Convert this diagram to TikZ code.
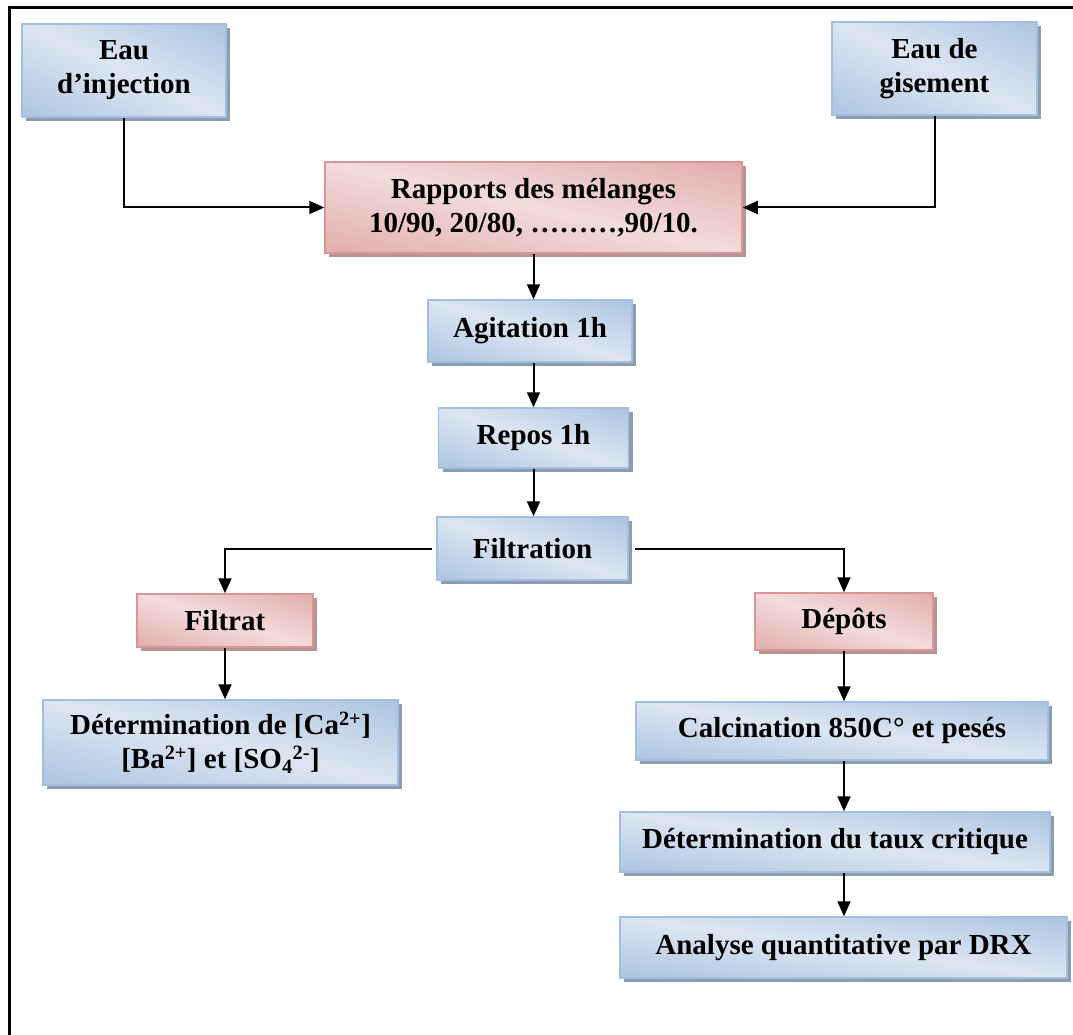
\documentclass[tikz,border=0pt]{standalone}
\usepackage{fontspec}
\setmainfont{Liberation Serif}
\usetikzlibrary{arrows.meta,shadows}

\definecolor{blueline}{HTML}{A3BFE0}
\definecolor{blueshadow}{HTML}{8C9DB1}
\definecolor{redline}{HTML}{D99694}
\definecolor{redshadow}{HTML}{B39595}

% diagonal gradients: light along one diagonal, dark in the other two corners
\pgfdeclarefunctionalshading{bluediag}{\pgfpointorigin}{\pgfpoint{100bp}{100bp}}{}{%
  add 100 sub abs 75 div dup 1 gt {pop 1} if dup dup
  -0.106 mul 0.949 add 3 1 roll
  -0.200 mul 0.902 add exch
  -0.279 mul 0.863 add 3 1 roll exch}
\pgfdeclarefunctionalshading{reddiag}{\pgfpointorigin}{\pgfpoint{100bp}{100bp}}{}{%
  add 100 sub abs 75 div dup 1 gt {pop 1} if dup dup
  -0.279 mul 0.859 add 3 1 roll
  -0.275 mul 0.863 add exch
  -0.098 mul 0.949 add 3 1 roll exch}

\tikzset{
  stepblue/.style={draw=blueline, line width=1.5pt,
    shade, shading=bluediag, shading angle=0,
    drop shadow={shadow xshift=4pt, shadow yshift=-4pt, fill=blueshadow, opacity=1},
    align=center, inner sep=0pt,
    font=\fontsize{29}{34}\selectfont\bfseries},
  stepred/.style={stepblue, draw=redline, shading=reddiag,
    drop shadow={shadow xshift=4pt, shadow yshift=-4pt, fill=redshadow, opacity=1}},
  boxsize/.style 2 args={minimum width=#1pt, minimum height=#2pt},
  flow/.style={-{Triangle[length=15pt,width=13pt]}, black, line width=2pt}
}

\begin{document}
\begin{tikzpicture}[x=1pt,y=-1pt]
\useasboundingbox (0,0) rectangle (1073,1035);
\draw [black, line width=3pt] (9,1035) -- (9,8) -- (1073,8);

\node [stepblue, boxsize={204}{93}] (inj) at (124,70.5) {Eau\\d’injection};
\node [stepblue, boxsize={205}{93}] (gis) at (934.5,68.5) {Eau de\\gisement};
\node [stepred, boxsize={417}{91}] (mel) at (533.5,207.5) {Rapports des mélanges\\10/90, 20/80, ………,90/10.};
\node [stepblue, boxsize={204}{62}] (agit) at (530,331) {Agitation 1h};
\node [stepblue, boxsize={190}{60}] (repos) at (533.5,438) {Repos 1h};
\node [stepblue, boxsize={191}{63}] (filt) at (532.5,548.5) {Filtration};

\node [stepred, boxsize={176}{53}] (filtrat) at (225,620.5) {Filtrat};
\node [stepblue, boxsize={355}{85}] (det) at (220.5,742.5) {Détermination de [Ca\textsuperscript{2+}]\\{}[Ba\textsuperscript{2+}] et [SO\textsubscript{4}\textsuperscript{2-}]};

\node [stepred, boxsize={178}{57}] (dep) at (844,621.5) {Dépôts};
\node [stepblue, boxsize={412}{58}] (calc) at (842,731) {Calcination 850C° et pesés};
\node [stepblue, boxsize={430}{60}] (taux) at (835,842) {Détermination du taux critique};
\node [stepblue, boxsize={447}{61}] (drx) at (843.5,947.5) {Analyse quantitative par DRX};

\draw [flow] (inj.south) |- (mel.west);
\draw [flow] (gis.south) |- (mel.east);
\draw [flow] (mel.south) -- (mel.south |- agit.north);
\draw [flow] (mel.south |- agit.south) -- (mel.south |- repos.north);
\draw [flow] (mel.south |- repos.south) -- (mel.south |- filt.north);
\draw [flow] ([xshift=-4pt]filt.west) -| (filtrat.north);
\draw [flow] ([xshift=6pt]filt.east) -| (dep.north);
\draw [flow] (filtrat.south) -- (filtrat.south |- det.north);
\draw [flow] (dep.south) -- (dep.south |- calc.north);
\draw [flow] (dep.south |- calc.south) -- (dep.south |- taux.north);
\draw [flow] (dep.south |- taux.south) -- (dep.south |- drx.north);
\end{tikzpicture}
\end{document}
